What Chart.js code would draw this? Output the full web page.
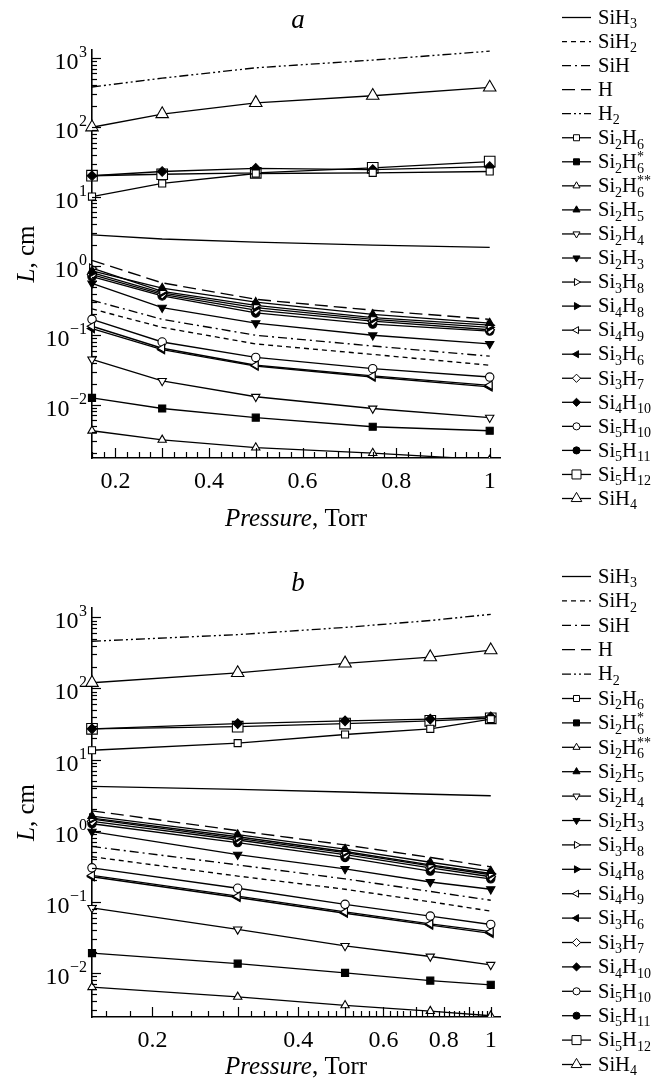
<!DOCTYPE html>
<html><head><meta charset="utf-8">
<script src="https://cdn.jsdelivr.net/npm/chart.js@4.4.1/dist/chart.umd.min.js"></script>
<style>
html,body{margin:0;padding:0;background:#fff;}
#wrap{position:relative;width:661px;height:1080px;}
canvas{position:absolute;left:0;}
#ca{top:0;} #cb{top:560px;}
</style></head><body>
<div id="wrap"><canvas id="ca" width="661" height="560"></canvas><canvas id="cb" width="661" height="520"></canvas></div>
<script>
// ---------- data ----------
const seriesNames = ['SiH3','SiH2','SiH','H','H2','Si2H6','Si2H6*','Si2H6**','Si2H5','Si2H4','Si2H3','Si3H8','Si4H8','Si4H9','Si3H6','Si3H7','Si4H10','Si5H10','Si5H11','Si5H12','SiH4'];
const pressureA = [0.15, 0.3, 0.5, 0.75, 1.0];
const pressureB = [0.15, 0.3, 0.5, 0.75, 1.0];
const xTicksA = [0.2, 0.4, 0.6, 0.8, 1];
const xTicksB = [0.2, 0.4, 0.6, 0.8, 1];
const yTickValues = [0.01, 0.1, 1, 10, 100, 1000];
const yTickBase = '10';
const yTickExps = ['\u22122', '\u22121', '0', '1', '2', '3'];

// panel a
const a_SiH3   = [2.8, 2.45, 2.2, 2.0, 1.85];
const a_SiH2   = [0.24, 0.13, 0.075, 0.053, 0.037];
const a_SiH    = [0.32, 0.17, 0.10, 0.07, 0.05];
const a_H      = [1.2, 0.57, 0.33, 0.23, 0.17];
const a_H2     = [380, 510, 720, 930, 1250];
const a_Si2H6  = [10, 15.5, 21.5, 22, 23];
const a_Si2H6s = [0.0125, 0.0088, 0.0065, 0.0048, 0.0042];
const a_Si2H6ss= [0.0042, 0.0031, 0.0024, 0.0020, 0.0016];
const a_Si2H5  = [0.85, 0.48, 0.30, 0.20, 0.15];
const a_Si2H4  = [0.045, 0.022, 0.013, 0.0088, 0.0065];
const a_Si2H3  = [0.56, 0.25, 0.15, 0.10, 0.075];
const a_Si3H8  = [0.93, 0.43, 0.27, 0.18, 0.14];
const a_Si4H8  = [0.8, 0.41, 0.25, 0.17, 0.13];
const a_Si4H9  = [0.135, 0.065, 0.037, 0.026, 0.019];
const a_Si3H6  = [0.125, 0.062, 0.036, 0.025, 0.018];
const a_Si3H7  = [0.75, 0.39, 0.23, 0.16, 0.12];
const a_Si4H10 = [20, 23, 25.5, 24.5, 27];
const a_Si5H10 = [0.17, 0.08, 0.048, 0.033, 0.025];
const a_Si5H11 = [0.7, 0.37, 0.21, 0.145, 0.115];
const a_Si5H12 = [20, 21, 22, 26, 32];
const a_SiH4   = [100, 155, 225, 285, 375];

// panel b
const b_SiH3   = [4.2, 3.8, 3.5, 3.25, 3.1];
const b_SiH2   = [0.43, 0.23, 0.15, 0.10, 0.074];
const b_SiH    = [0.6, 0.33, 0.21, 0.14, 0.105];
const b_H      = [1.9, 1.0, 0.63, 0.42, 0.31];
const b_H2     = [460, 570, 720, 900, 1100];
const b_Si2H6  = [13.5, 17, 22.5, 27, 37];
const b_Si2H6s = [0.019, 0.0135, 0.010, 0.0078, 0.0068];
const b_Si2H6ss= [0.0063, 0.0046, 0.0035, 0.0029, 0.0025];
const b_Si2H5  = [1.6, 0.88, 0.55, 0.36, 0.27];
const b_Si2H4  = [0.082, 0.041, 0.024, 0.017, 0.013];
const b_Si2H3  = [0.97, 0.46, 0.29, 0.19, 0.15];
const b_Si3H8  = [1.5, 0.82, 0.51, 0.33, 0.25];
const b_Si4H8  = [1.45, 0.78, 0.49, 0.32, 0.24];
const b_Si4H9  = [0.235, 0.12, 0.072, 0.049, 0.038];
const b_Si3H6  = [0.225, 0.115, 0.069, 0.047, 0.036];
const b_Si3H7  = [1.35, 0.74, 0.46, 0.30, 0.225];
const b_Si4H10 = [27, 32, 35, 37, 40];
const b_Si5H10 = [0.30, 0.155, 0.092, 0.063, 0.048];
const b_Si5H11 = [1.25, 0.68, 0.42, 0.27, 0.21];
const b_Si5H12 = [27, 29, 32, 35, 38];
const b_SiH4   = [120, 165, 225, 275, 345];

const valuesA = [a_SiH3,a_SiH2,a_SiH,a_H,a_H2,a_Si2H6,a_Si2H6s,a_Si2H6ss,a_Si2H5,a_Si2H4,a_Si2H3,a_Si3H8,a_Si4H8,a_Si4H9,a_Si3H6,a_Si3H7,a_Si4H10,a_Si5H10,a_Si5H11,a_Si5H12,a_SiH4];
const valuesB = [b_SiH3,b_SiH2,b_SiH,b_H,b_H2,b_Si2H6,b_Si2H6s,b_Si2H6ss,b_Si2H5,b_Si2H4,b_Si2H3,b_Si3H8,b_Si4H8,b_Si4H9,b_Si3H6,b_Si3H7,b_Si4H10,b_Si5H10,b_Si5H11,b_Si5H12,b_SiH4];

// ---------- styles ----------
const STY = {
  'SiH3':   {dash:[]},
  'SiH2':   {dash:[5,4]},
  'SiH':    {dash:[9,4,2,4]},
  'H':      {dash:[13,6]},
  'H2':     {dash:[9,3,2,3,2,3]},
  'Si2H6':  {ps:'rect', r:5, fill:false},
  'Si2H6*': {ps:'rect', r:5, fill:true},
  'Si2H6**':{ps:'triangle', r:4.8, fill:false},
  'Si2H5':  {ps:'triangle', r:4.8, fill:true},
  'Si2H4':  {ps:'triangle', rot:180, r:4.8, fill:false},
  'Si2H3':  {ps:'triangle', rot:180, r:4.8, fill:true},
  'Si3H8':  {ps:'triangle', rot:90, r:4.8, fill:false},
  'Si4H8':  {ps:'triangle', rot:90, r:4.8, fill:true},
  'Si4H9':  {ps:'triangle', rot:270, r:4.8, fill:false},
  'Si3H6':  {ps:'triangle', rot:270, r:4.8, fill:true},
  'Si3H7':  {ps:'rectRot', r:4.8, fill:false},
  'Si4H10': {ps:'rectRot', r:4.8, fill:true},
  'Si5H10': {ps:'circle', r:4.2, fill:false},
  'Si5H11': {ps:'circle', r:4.2, fill:true},
  'Si5H12': {ps:'rect', r:7.5, fill:false},
  'SiH4':   {ps:'triangle', r:7.2, fill:false}
};
const FONT = '"Liberation Serif","Times New Roman",serif';
Chart.defaults.font.family = FONT;
Chart.defaults.color = '#000';

function mkSet(name, xs, ys) {
  const s = STY[name];
  return {
    label: name,
    data: xs.map((x, i) => ({x: x, y: ys[i]})),
    borderColor: '#000', borderWidth: 1.35, borderDash: s.dash || [],
    pointStyle: s.ps || false,
    pointRadius: s.ps ? s.r : 0,
    pointHoverRadius: s.ps ? s.r : 0,
    pointRotation: s.rot || 0,
    pointBackgroundColor: s.fill ? '#000' : '#fff',
    pointBorderColor: '#000', pointBorderWidth: 1.1,
    fill: false, tension: 0,
    clip: {left: 12, top: 12, right: 12, bottom: 0}
  };
}

function drawFormula(ctx, s, x, y, size) {
  const base = y + size * 0.33;
  const sub = Math.round(size * 0.68);
  let cx = x, lastSub = null, i = 0;
  ctx.textAlign = 'left'; ctx.textBaseline = 'alphabetic'; ctx.fillStyle = '#000';
  while (i < s.length) {
    const ch = s[i];
    let j = i;
    if (/\d/.test(ch)) {
      while (j < s.length && /\d/.test(s[j])) j++;
      const t = s.slice(i, j);
      ctx.font = sub + 'px ' + FONT;
      lastSub = cx;
      ctx.fillText(t, cx, base + size * 0.22);
      cx += ctx.measureText(t).width;
    } else if (ch === '*') {
      while (j < s.length && s[j] === '*') j++;
      const t = s.slice(i, j);
      ctx.font = sub + 'px ' + FONT;
      ctx.fillText(t, lastSub !== null ? lastSub : cx, base - size * 0.33);
    } else {
      while (j < s.length && !/[\d*]/.test(s[j])) j++;
      const t = s.slice(i, j);
      ctx.font = size + 'px ' + FONT;
      ctx.fillText(t, cx, base);
      cx += ctx.measureText(t).width;
    }
    i = j;
  }
}

const decor = {
  id: 'decor',
  afterDraw(chart, args, o) {
    const ctx = chart.ctx, ca = chart.chartArea;
    const xs = chart.scales.x, ys = chart.scales.y;
    ctx.save();
    ctx.strokeStyle = '#000'; ctx.fillStyle = '#000'; ctx.lineWidth = 1.2; ctx.setLineDash([]);
    // y ticks (inward)
    for (let n = -3; n <= 3; n++) {
      for (let k = 1; k <= 9; k++) {
        const v = k * Math.pow(10, n);
        if (v < ys.min || v > ys.max) continue;
        const py = Math.round(ys.getPixelForValue(v)) + 0.5;
        const len = k === 1 ? 9 : 5;
        ctx.beginPath(); ctx.moveTo(ca.left, py); ctx.lineTo(ca.left + len, py); ctx.stroke();
      }
    }
    // y tick labels: 10 with superscript exponent
    yTickValues.forEach((v, i) => {
      const py = ys.getPixelForValue(v);
      ctx.font = '16px ' + FONT;
      const we = ctx.measureText(yTickExps[i]).width;
      ctx.textAlign = 'left'; ctx.textBaseline = 'alphabetic';
      const ex = ca.left - 5 - we;
      ctx.fillText(yTickExps[i], ex, py - 1);
      ctx.font = '24px ' + FONT;
      ctx.textAlign = 'right';
      ctx.fillText(yTickBase, ex - 0.5, py + 11);
    });
    // x ticks (inward)
    for (let m = Math.round(o.xStart / o.xStep); m * o.xStep <= 1.0001; m++) {
      const v = m * o.xStep;
      const px = Math.round(xs.getPixelForValue(v)) + 0.5;
      const maj = Math.abs(v * 10 - Math.round(v * 10)) < 1e-6;
      const len = maj ? 10 : 6;
      ctx.beginPath(); ctx.moveTo(px, ca.bottom); ctx.lineTo(px, ca.bottom - len); ctx.stroke();
    }
    // panel letter
    const cxm = (ca.left + ca.right) / 2;
    ctx.textAlign = 'center'; ctx.textBaseline = 'middle';
    ctx.font = 'italic 27px ' + FONT;
    ctx.fillText(o.letter, cxm + 2, o.letterY);
    // x title
    const tf = 25;
    ctx.font = 'italic ' + tf + 'px ' + FONT;
    const w1 = ctx.measureText('Pressure').width;
    ctx.font = tf + 'px ' + FONT;
    const w2 = ctx.measureText(', Torr').width;
    let sx = cxm - (w1 + w2) / 2;
    ctx.textAlign = 'left';
    ctx.font = 'italic ' + tf + 'px ' + FONT; ctx.fillText('Pressure', sx, o.xTitleY);
    ctx.font = tf + 'px ' + FONT; ctx.fillText(', Torr', sx + w1, o.xTitleY);
    // y title
    ctx.save();
    ctx.translate(27, (ca.top + ca.bottom) / 2);
    ctx.rotate(-Math.PI / 2);
    ctx.font = 'italic ' + tf + 'px ' + FONT;
    const u1 = ctx.measureText('L').width;
    ctx.font = tf + 'px ' + FONT;
    const u2 = ctx.measureText(', cm').width;
    ctx.textBaseline = 'middle';
    ctx.font = 'italic ' + tf + 'px ' + FONT; ctx.fillText('L', -(u1 + u2) / 2, 0);
    ctx.font = tf + 'px ' + FONT; ctx.fillText(', cm', -(u1 + u2) / 2 + u1, 0);
    ctx.restore();
    // legend
    chart.data.datasets.forEach((ds, i) => {
      const y = o.legTop + i * o.legGap;
      const s = STY[ds.label];
      ctx.lineWidth = 1.3; ctx.strokeStyle = '#000';
      ctx.setLineDash(s.dash || []);
      ctx.beginPath(); ctx.moveTo(562, y + 0.5); ctx.lineTo(591, y + 0.5); ctx.stroke();
      ctx.setLineDash([]);
      if (s.ps) {
        ctx.fillStyle = s.fill ? '#000' : '#fff';
        ctx.lineWidth = 1;
        Chart.helpers.drawPoint(ctx, {pointStyle: s.ps, radius: s.r * 0.85, rotation: s.rot || 0, borderWidth: 1}, 576.5, y + 0.5);
      }
      drawFormula(ctx, ds.label, 598, y, 20.5);
    });
    ctx.restore();
  }
};

function makeChart(id, xs, vals, xType, xMax, xTicks, yMin, yMax, padTop, xAxisH, o) {
  return new Chart(document.getElementById(id), {
    type: 'line',
    data: {datasets: seriesNames.map((n, i) => mkSet(n, xs, vals[i]))},
    options: {
      responsive: false, animation: false, events: [],
      layout: {padding: {left: 0, right: 161, top: padTop, bottom: 0}},
      plugins: {legend: {display: false}, tooltip: {enabled: false}, decor: o},
      scales: {
        x: {
          type: xType, min: 0.15, max: xMax,
          grid: {display: false, drawTicks: false},
          border: {display: true, color: '#000', width: 1.6},
          afterBuildTicks: s => { s.ticks = xTicks.map(v => ({value: v})); },
          afterFit: s => { s.height = xAxisH; },
          ticks: {padding: 9, font: {size: 24, family: FONT}, color: '#000', autoSkip: false, maxRotation: 0,
                  callback: v => String(+v.toFixed(2))}
        },
        y: {
          type: 'logarithmic', min: yMin, max: yMax,
          grid: {display: false, drawTicks: false},
          border: {display: true, color: '#000', width: 1.6},
          afterBuildTicks: s => { s.ticks = yTickValues.map(v => ({value: v})); },
          afterFit: s => { s.width = 92; },
          ticks: {display: false}
        }
      }
    },
    plugins: [decor]
  });
}

makeChart('ca', pressureA, valuesA, 'linear', 1.022, xTicksA, 0.0017, 1300, 50, 102,
  {letter: 'a', letterY: 21, xTitleY: 519, legTop: 17, legGap: 24.05, xStart: 0.15, xStep: 0.025});
makeChart('cb', pressureB, valuesB, 'logarithmic', 1.045, xTicksB, 0.0024, 1350, 48, 63,
  {letter: 'b', letterY: 24, xTitleY: 507, legTop: 16, legGap: 24.4, xStart: 0.16, xStep: 0.02});
</script>
</body></html>
